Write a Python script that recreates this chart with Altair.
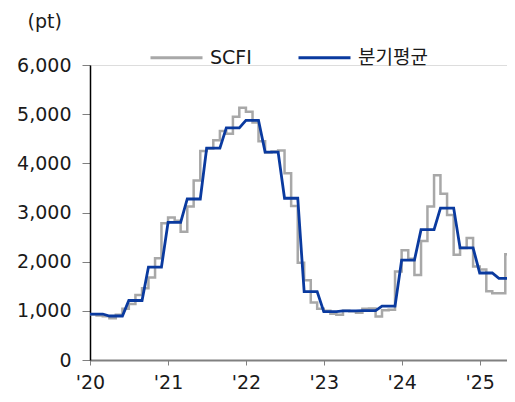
import altair as alt
import pandas as pd

# Monthly SCFI readings (pt), Jan 2020 .. Jul 2025
scfi_2020 = [930, 905, 890, 850, 920, 1040, 1140, 1320, 1460, 1680, 2070, 2780]
scfi_2021 = [2900, 2830, 2610, 3120, 3650, 4250, 4300, 4470, 4660, 4600, 4950, 5130]
scfi_2022 = [5050, 4830, 4450, 4220, 4240, 4260, 3800, 3130, 1980, 1620, 1170, 1040]
scfi_2023 = [1000, 940, 920, 1000, 990, 960, 1040, 1050, 885, 1010, 1020, 1800]
scfi_2024 = [2230, 2060, 1730, 2420, 3120, 3760, 3380, 2950, 2140, 2280, 2480, 1900]
scfi_2025 = [1840, 1400, 1360, 1360, 2150, 1850, 1850]

# Quarterly averages (pt), 2020Q1 .. 2025Q3
quarter_avg = [935, 895, 1210, 1890,
               2800, 3275, 4310, 4720,
               4875, 4230, 3290, 1390,
               985, 998, 1003, 1095,
               2030, 2650, 3090, 2280,
               1770, 1662, 1760]

years = [2020, 2021, 2022, 2023, 2024, 2025]
series_names = ["SCFI", "분기평균"]
tick_years = years

scfi = scfi_2020 + scfi_2021 + scfi_2022 + scfi_2023 + scfi_2024 + scfi_2025
months = [f"{y}-{m:02d}-01" for y in years for m in range(1, 13)][:len(scfi)]

df_scfi = pd.DataFrame({"date": months, "value": scfi, "series": series_names[0]})
df_avg = pd.DataFrame({"date": months,
                       "value": [quarter_avg[i // 3] for i in range(len(months))],
                       "series": series_names[1]})

FONT = "DejaVu Sans, Noto Sans CJK KR, sans-serif"
FS = 19
GRAY = "#A8A8A8"
BLUE = "#0A3A9F"
TXT = "#1a1a1a"

color = alt.Color(
    "series:N",
    scale=alt.Scale(domain=series_names, range=[GRAY, BLUE]),
    legend=alt.Legend(
        title=None, orient="none", direction="horizontal",
        legendX=59, legendY=-35, padding=0,
        symbolType="stroke", symbolSize=2704, symbolStrokeWidth=3,
        labelFontSize=FS, labelFont=FONT, labelColor=TXT,
        labelOffset=6, columnPadding=40,
    ),
)

x = alt.X(
    "date:T",
    scale=alt.Scale(type="utc",
                    domain=[alt.DateTime(year=2020, month=1, date=1, utc=True),
                            alt.DateTime(year=2025, month=5, date=9, utc=True)]),
    axis=alt.Axis(
        title=None,
        values=[alt.DateTime(year=y, month=1, date=1, utc=True) for y in tick_years],
        labelExpr="\"'\" + utcFormat(datum.value, '%y')",
        labelFontSize=FS, labelFont=FONT, labelColor=TXT, labelPadding=8,
        domainColor="#808080", domainWidth=2, tickColor="#808080", tickSize=5,
        grid=False, labelFlush=False,
    ),
)

y = alt.Y(
    "value:Q",
    scale=alt.Scale(domain=[0, 6000], nice=False),
    axis=alt.Axis(
        title="(pt)", titleAngle=0, titleAlign="left", titleBaseline="middle",
        titleX=-63, titleY=-44, titleFontSize=FS, titleFont=FONT,
        titleFontWeight="normal", titleColor=TXT,
        values=[0, 1000, 2000, 3000, 4000, 5000, 6000], format=",d",
        labelFontSize=FS, labelFont=FONT, labelColor=TXT, labelPadding=11,
        domainColor="#000", domainWidth=1.5, tickColor="#808080", tickSize=8,
        grid=False,
    ),
)

gray_line = alt.Chart(df_scfi).mark_line(
    interpolate="step-after", strokeWidth=2.5, clip=True
).encode(x=x, y=y, color=color)

blue_line = alt.Chart(df_avg).mark_line(
    strokeWidth=2.8, clip=True
).encode(x=x, y=y, color=color)

chart = alt.layer(gray_line, blue_line).properties(
    width=417, height=295,
    autosize=alt.AutoSizeParams(type="none"),
    padding={"left": 82, "top": 57, "right": 0, "bottom": 34},
).configure_view(stroke=None).configure(background="white")

chart.save("out.html", embed_options={"renderer": "svg", "actions": False})
